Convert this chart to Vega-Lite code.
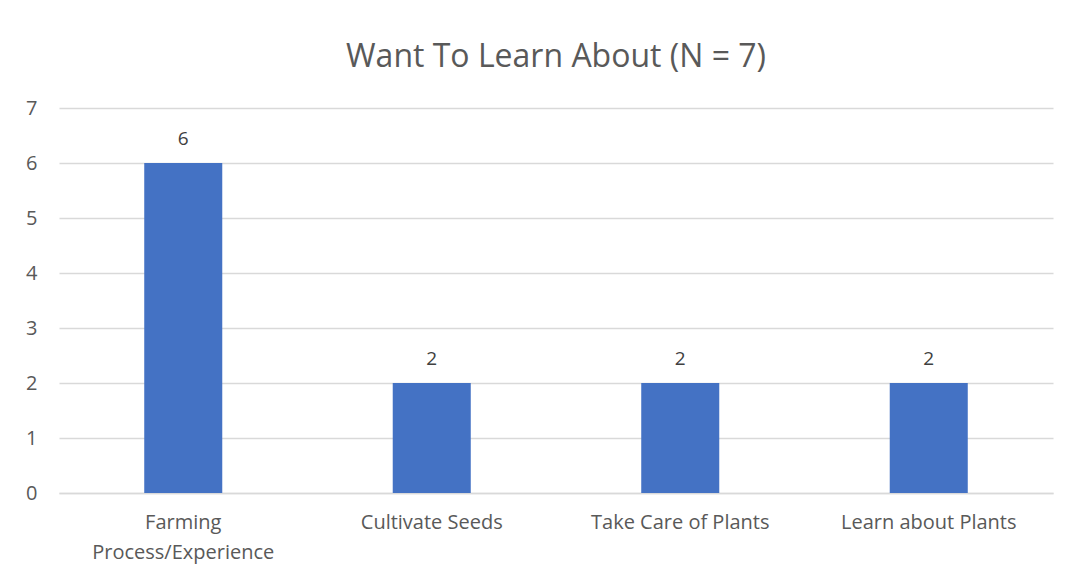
{
  "$schema": "https://vega.github.io/schema/vega-lite/v6.json",
  "autosize": "none",
  "width": 994,
  "height": 385,
  "padding": {"left": 59, "top": 108, "right": 18, "bottom": 87},
  "background": "white",
  "title": {
    "text": "Want To Learn About (N = 7)",
    "font": "Open Sans",
    "fontSize": 32,
    "fontWeight": "normal",
    "color": "#595959",
    "anchor": "middle",
    "offset": 24
  },
  "data": {
    "values": [
      {"topic": "Farming Process/Experience", "count": 6},
      {"topic": "Cultivate Seeds", "count": 2},
      {"topic": "Take Care of Plants", "count": 2},
      {"topic": "Learn about Plants", "count": 2}
    ]
  },
  "config": {
    "view": {"stroke": null},
    "font": "Open Sans"
  },
  "encoding": {
    "x": {
      "field": "topic",
      "type": "nominal",
      "sort": null,
      "scale": {"paddingInner": 0.686, "paddingOuter": 0.343},
      "axis": {
        "title": null,
        "labelAngle": 0,
        "labelFont": "Open Sans",
        "labelFontSize": 20,
        "labelColor": "#595959",
        "labelPadding": 19,
        "labelLineHeight": 30,
        "labelLimit": 400,
        "ticks": false,
        "domainColor": "#d9d9d9",
        "domainWidth": 1.5,
        "labelExpr": "datum.value == 'Farming Process/Experience' ? ['Farming', 'Process/Experience'] : datum.value"
      }
    },
    "y": {
      "field": "count",
      "type": "quantitative",
      "scale": {"domain": [0, 7]},
      "axis": {
        "title": null,
        "values": [0, 1, 2, 3, 4, 5, 6, 7],
        "domain": false,
        "ticks": false,
        "gridColor": "#d9d9d9",
        "gridWidth": 1.5,
        "labelFont": "Open Sans",
        "labelFontSize": 20,
        "labelColor": "#595959",
        "labelPadding": 22
      }
    }
  },
  "layer": [
    {"mark": {"type": "bar", "color": "#4472C4"}},
    {
      "mark": {"type": "text", "dy": -24, "fontSize": 19, "color": "#404040", "font": "Open Sans"},
      "encoding": {"text": {"field": "count", "type": "quantitative"}}
    }
  ]
}
